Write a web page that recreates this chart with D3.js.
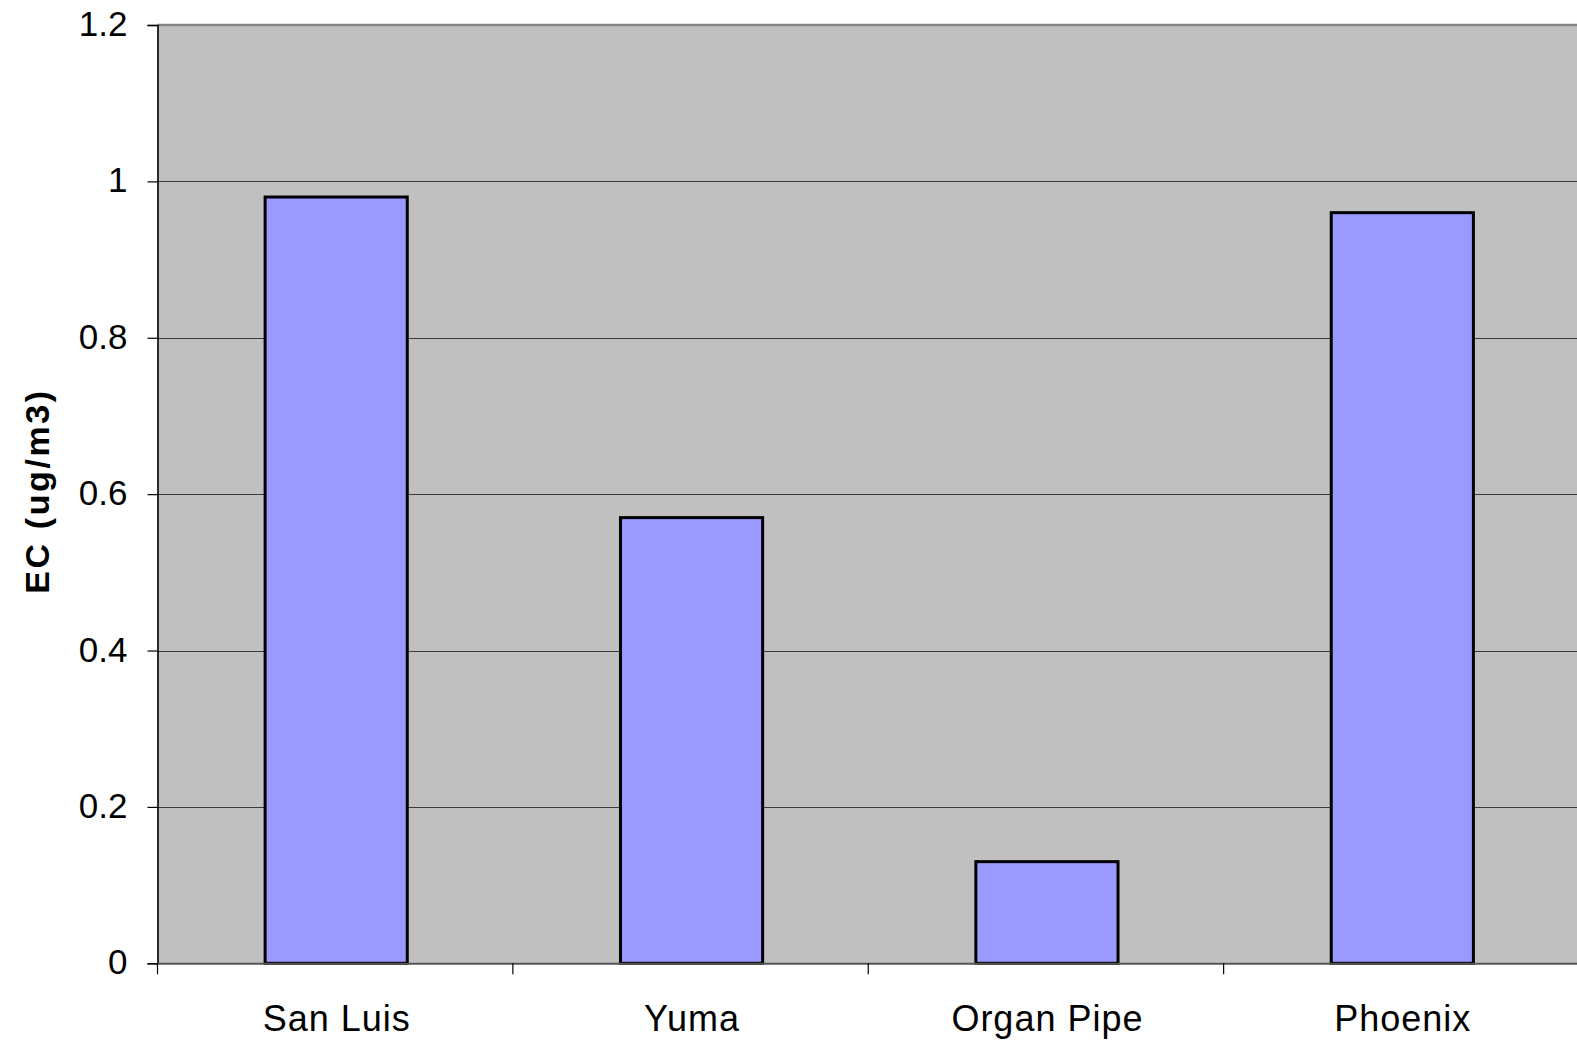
<!DOCTYPE html>
<html><head><meta charset="utf-8">
<script src="https://cdn.jsdelivr.net/npm/d3@7"></script>
<style>
html,body{margin:0;padding:0;background:#fff;}
svg{display:block;}
text{font-family:"Liberation Sans",Arial,sans-serif;fill:#000;}
</style></head>
<body>
<svg id="c" width="1577" height="1041"></svg>
<script>
const categories = ["San Luis","Yuma","Organ Pipe","Phoenix"];
const ecValues = [0.98, 0.57, 0.13, 0.96];
const yTicks = [0, 0.2, 0.4, 0.6, 0.8, 1, 1.2];
const yTickLabels = ["0","0.2","0.4","0.6","0.8","1","1.2"];
const yTitle = "EC (ug/m3)";

const svg = d3.select("#c");
const L = 157.5, R = 1579, T = 25, B = 963.3;

const y = d3.scaleLinear().domain([0, 1.2]).range([B, T]);
const xCat = d3.scaleBand().domain(categories).range([L, R]).padding(0);
const x = d3.scaleBand().domain(categories).range([L + 1, R + 1]).paddingInner(0.6).paddingOuter(0.3);

// plot background
svg.append("rect").attr("x", L).attr("y", T).attr("width", R - L).attr("height", B - T).attr("fill", "#c0c0c0");

// gridlines
svg.append("g").selectAll("line").data(yTicks.filter(v => v > 0 && v < 1.2)).join("line")
  .attr("x1", L).attr("x2", R)
  .attr("y1", d => Math.round(y(d)) + 0.5).attr("y2", d => Math.round(y(d)) + 0.5)
  .attr("stroke", "#3a3a3a").attr("stroke-width", 1.2);

// top border
svg.append("line").attr("x1", L).attr("x2", R).attr("y1", y(1.2)).attr("y2", y(1.2))
  .attr("stroke", "#848484").attr("stroke-width", 2.6);

// bars
svg.append("g").selectAll("rect").data(categories).join("rect")
  .attr("x", d => x(d)).attr("width", x.bandwidth())
  .attr("y", (d, i) => y(ecValues[i])).attr("height", (d, i) => y(0) - y(ecValues[i]))
  .attr("fill", "#9999ff").attr("stroke", "#000").attr("stroke-width", 3);

// y axis
const yAxis = d3.axisLeft(y).tickValues(yTicks).tickSize(10).tickPadding(20)
  .tickFormat((d, i) => yTickLabels[i]);
const gy = svg.append("g").attr("transform", `translate(${L},0)`).call(yAxis);
gy.select(".domain").attr("stroke", "#000").attr("stroke-width", 1.6);
gy.selectAll(".tick line").attr("stroke", "#000").attr("stroke-width", 1.2);
gy.selectAll(".tick text").attr("font-size", 35).attr("font-family", "Liberation Sans, Arial, sans-serif").attr("fill", "#000").attr("dy", "0.3em");

// x axis line
svg.append("line").attr("x1", L).attr("x2", R).attr("y1", B + 0.5).attr("y2", B + 0.5)
  .attr("stroke", "#555").attr("stroke-width", 2);

// category boundary ticks
const boundaries = categories.map(c => xCat(c)).concat([R]);
svg.append("g").selectAll("line").data(boundaries).join("line")
  .attr("x1", d => d).attr("x2", d => d).attr("y1", B).attr("y2", B + 11)
  .attr("stroke", "#000").attr("stroke-width", 1.2);

// category labels
svg.append("g").selectAll("text").data(categories).join("text")
  .attr("x", d => xCat(d) + xCat.bandwidth() / 2 + 1.5).attr("y", 1030.5)
  .attr("text-anchor", "middle").attr("font-size", 36).attr("letter-spacing", 1)
  .text(d => d);

// y title
svg.append("text").attr("transform", `translate(49,491) rotate(-90)`)
  .attr("text-anchor", "middle").attr("font-size", 34).attr("font-weight", "bold").attr("letter-spacing", 2.6)
  .text(yTitle);
</script>
</body></html>
